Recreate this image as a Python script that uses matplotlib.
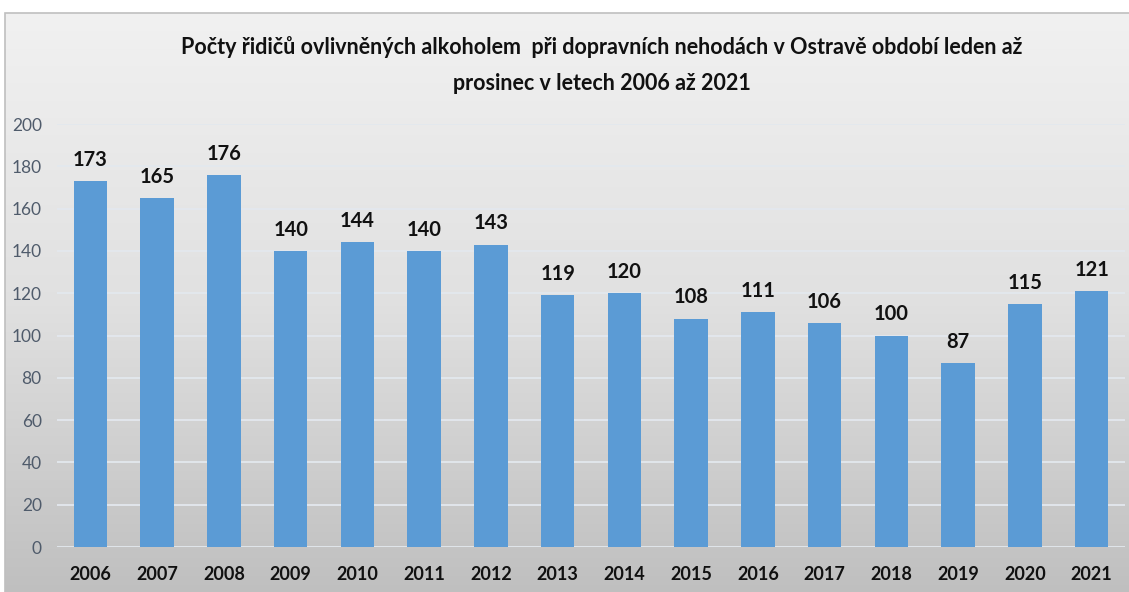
import matplotlib.pyplot as plt
import numpy as np
from matplotlib.patches import Rectangle

years = ["2006", "2007", "2008", "2009", "2010", "2011", "2012", "2013",
         "2014", "2015", "2016", "2017", "2018", "2019", "2020", "2021"]
drivers = [173, 165, 176, 140, 144, 140, 143, 119, 120, 108, 111, 106, 100, 87, 115, 121]
yticks = [0, 20, 40, 60, 80, 100, 120, 140, 160, 180, 200]
title = ("Počty řidičů ovlivněných alkoholem  při dopravních nehodách v Ostravě období leden až\n"
         "prosinec v letech 2006 až 2021")

FONT = ["Lato", "DejaVu Sans"]


def main():
    plt.rcParams["font.family"] = FONT
    W, H = 1129, 592
    fig = plt.figure(figsize=(W / 100, H / 100), dpi=100)

    # Pozadí s přechodem (světle šedá nahoře, tmavší dole)
    bg = fig.add_axes([5 / W, 0, 1 - 5 / W, 1 - 13 / H], zorder=0)
    t = np.linspace(0, 1, 256)
    g = np.interp(t, [0, 0.5, 1], [0.945, 0.88, 0.75])
    grad = np.dstack([g, g, g]).reshape(256, 1, 3)
    bg.imshow(grad, aspect="auto", extent=[0, 1, 0, 1], origin="upper")
    bg.set_axis_off()
    fig.add_artist(Rectangle((5 / W, -0.01), 1, 1 - 13 / H + 0.01, transform=fig.transFigure,
                             fill=False, edgecolor="#bfbfbf", linewidth=1.2, zorder=1))

    # Oblast grafu
    ax = fig.add_axes([57 / W, (H - 547) / H, (1125 - 57) / W, (547 - 124) / H], zorder=2)
    ax.patch.set_alpha(0)
    x = np.arange(len(years))
    bars = ax.bar(x, drivers, width=0.5, color="#5b9bd5", zorder=3)
    ax.set_xlim(-0.5, len(years) - 0.5)
    ax.set_ylim(0, 200)
    ax.set_yticks(yticks)
    ax.set_xticks(x)
    ax.set_xticklabels(years, fontsize=13, fontweight="bold", color="#111111")
    ax.tick_params(axis="y", labelsize=12.5, colors="#4f5b6b", length=0, pad=11)
    ax.tick_params(axis="x", length=0, pad=14)
    ax.grid(axis="y", color="#e3e8ee", linewidth=1.3, zorder=1)
    for s in ax.spines.values():
        s.set_visible(False)

    # Popisky hodnot
    for b, v in zip(bars, drivers):
        ax.annotate(str(v), (b.get_x() + b.get_width() / 2, v), xytext=(0, 8),
                    textcoords="offset points", ha="center", va="bottom",
                    fontsize=14.5, fontweight="bold", color="#111111")

    fig.text(602 / W, 1 - 65 / H, title, ha="center", va="center", fontsize=15.5,
             fontweight="bold", color="#111111", linespacing=1.9)

    fig.savefig("out.png", dpi=100)


if __name__ == "__main__":
    main()
